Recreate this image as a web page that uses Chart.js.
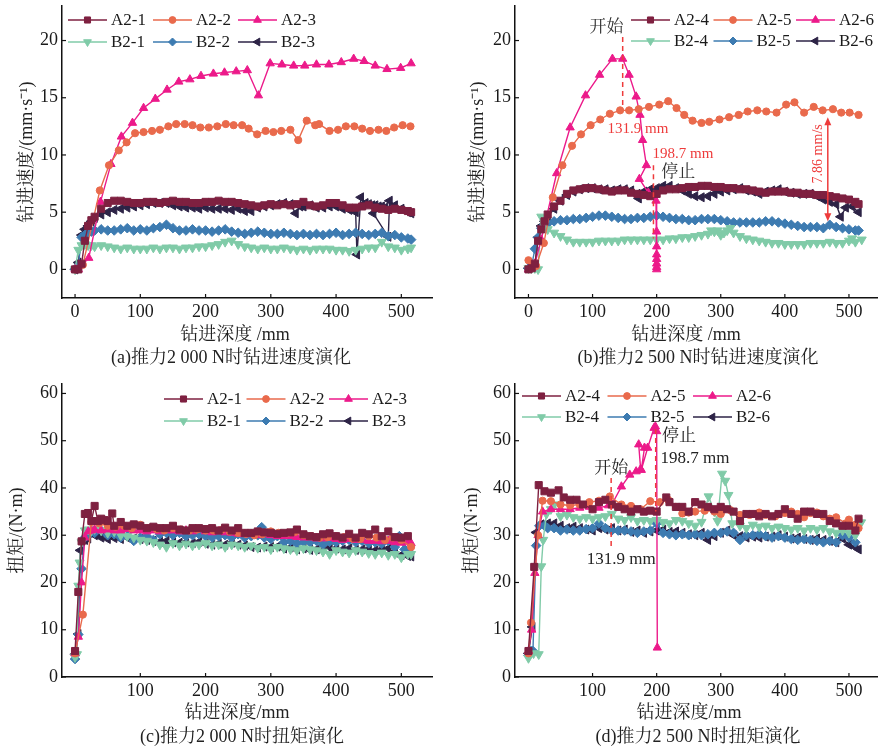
<!DOCTYPE html>
<html>
<head>
<meta charset="utf-8">
<script src="https://cdn.jsdelivr.net/npm/chart.js@4.4.1/dist/chart.umd.min.js"></script>
<style>
  body { margin: 0; background: #fff; }
  #page { position: relative; width: 884px; height: 746px; background: #fff; overflow: hidden; }
  .panel { position: absolute; }
  .t {
    position: absolute; transform: translate(-50%, -50%); white-space: nowrap;
    font: 18px "Liberation Serif", "Noto Serif CJK SC", "Noto Sans CJK SC", serif; color: #222;
  }
</style>
</head>
<body>
<div id="page">
  <div class="panel" style="left:0;top:0"><canvas id="chartA" width="442" height="322"></canvas></div>
  <div class="panel" style="left:442px;top:0"><canvas id="chartB" width="442" height="322"></canvas></div>
  <div class="panel" style="left:0;top:370px"><canvas id="chartC" width="442" height="330"></canvas></div>
  <div class="panel" style="left:442px;top:370px"><canvas id="chartD" width="442" height="330"></canvas></div>

  <div class="t" style="left:235px;top:332px">钻进深度 /mm</div>
  <div class="t" style="left:686px;top:332px">钻进深度 /mm</div>
  <div class="t" style="left:237px;top:710px">钻进深度/mm</div>
  <div class="t" style="left:689px;top:710px">钻进深度/mm</div>

  <div class="t" style="left:231px;top:355px">(a)推力2 000 N时钻进速度演化</div>
  <div class="t" style="left:698px;top:355px">(b)推力2 500 N时钻进速度演化</div>
  <div class="t" style="left:242px;top:734px">(c)推力2 000 N时扭矩演化</div>
  <div class="t" style="left:698px;top:734px">(d)推力2 500 N时扭矩演化</div>
</div>

<script>
const FONT = '"Liberation Serif", "Noto Serif CJK SC", "Noto Sans CJK SC", serif';

// ---- tick labels
const speedTicks = [0, 5, 10, 15, 20];
const torqueTicks = [0, 10, 20, 30, 40, 50, 60];
const depthTicksAB = [0, 100, 200, 300, 400, 500];
const depthTicksCD = [100, 200, 300, 400, 500];

// shared depth grid (mm) used by the densely sampled curves
const depthGrid = [0,5,10,15,20,25,30,40,50,60,70,80,90,100,110,120,130,140,150,160,170,180,190,200,210,220,230,240,250,260,270,280,290,300,310,320,330,340,350,360,370,380,390,400,410,420,430,440,450,460,470,480,490,500,510,515];

// ---- (a) drilling speed, thrust 2000 N
const a21Speed = [0,0,0.5,2.5,3.8,4.3,4.6,5.3,5.8,6.0,6.0,5.9,5.8,5.8,5.9,5.9,5.8,5.9,6.0,5.9,5.9,5.8,5.8,5.9,5.9,6.0,5.9,5.9,5.8,5.7,5.6,5.5,5.6,5.7,5.6,5.7,5.6,5.7,5.9,5.6,5.5,5.6,5.8,5.8,5.6,5.4,5.4,5.5,5.6,5.4,5.3,5.2,5.3,5.2,5.1,5.0];
const a22Depth = [0,12,38,52,67,79,92,105,118,130,143,155,168,180,192,205,218,231,243,256,266,279,292,304,316,330,342,355,368,374,390,403,415,428,440,452,465,477,489,502,514];
const a22Speed = [0,0.4,6.9,9.1,10.4,11.1,11.9,12.0,12.1,12.2,12.5,12.7,12.7,12.6,12.4,12.4,12.5,12.7,12.6,12.6,12.3,11.8,12.1,12.0,12.1,12.2,11.3,13.0,12.6,12.7,12.1,12.2,12.5,12.5,12.3,12.1,12.2,12.1,12.4,12.6,12.5];
const a23Depth = [0,5,21,39,55,71,88,105,123,141,159,176,193,212,229,247,264,281,299,317,335,352,370,389,408,427,443,460,478,499,515];
const a23Speed = [0,0,1.0,5.9,9.2,11.6,12.8,14.1,14.9,15.7,16.4,16.6,16.9,17.1,17.2,17.3,17.4,15.2,18.0,17.9,17.8,17.8,17.9,17.9,18.1,18.4,18.2,17.8,17.5,17.6,18.0];
const b21Speed = [0,1.7,2.1,2.2,2.1,2.1,2.0,2.1,2.0,1.9,1.8,1.9,1.8,1.8,1.8,1.9,1.8,1.9,1.9,1.8,1.9,1.9,2.0,2.0,2.1,2.2,2.4,2.5,2.2,2.0,1.9,1.8,1.9,1.8,1.8,1.9,1.8,1.7,1.8,1.7,1.8,1.8,1.8,1.7,1.7,1.6,1.7,1.8,1.9,1.9,2.4,2.0,1.9,1.7,1.8,1.9];
const b22Speed = [0,0.3,2.8,3.0,3.2,3.3,3.4,3.5,3.4,3.4,3.5,3.6,3.4,3.5,3.4,3.6,3.7,3.9,3.6,3.4,3.4,3.5,3.4,3.4,3.3,3.4,3.5,3.3,3.2,3.1,3.2,3.3,3.2,3.1,3.1,3.2,3.1,3.0,3.1,3.0,3.1,3.0,3.1,3.2,3.0,3.1,3.2,3.1,3.0,3.1,3.2,2.9,3.0,2.8,2.7,2.6];
const b23Depth = [0,5,10,15,20,25,30,40,50,60,70,80,90,100,110,120,130,140,150,160,170,180,190,200,210,220,230,240,250,260,270,280,290,300,310,320,330,338,345,350,360,370,380,390,400,410,420,430,432,438,445,450,455,460,465,470,475,457,480,482,490,500,510,515];
const b23Speed = [0,0.6,3.0,3.5,3.8,4.2,4.5,4.8,5.0,5.2,5.3,5.4,5.5,5.6,5.7,5.8,5.8,5.8,5.6,5.5,5.4,5.4,5.3,5.4,5.3,5.3,5.3,5.2,5.3,5.1,5.1,5.4,5.5,5.6,5.7,5.8,5.7,4.9,5.5,5.5,5.6,5.4,5.4,5.5,5.5,5.3,5.2,5.0,1.3,6.3,5.8,5.7,5.6,5.6,5.5,5.5,5.4,4.9,2.85,6.0,5.6,5.3,5.0,4.9];

// ---- (b) drilling speed, thrust 2500 N
const a24Speed = [0,0.1,0.5,2.5,3.5,4.2,4.8,5.5,6.0,6.6,6.9,7.0,7.1,7.1,7.0,6.9,6.8,6.9,6.9,6.7,6.6,6.5,6.4,6.6,6.9,7.0,7.0,7.1,7.2,7.2,7.3,7.3,7.2,7.2,7.1,7.1,7.0,7.0,6.9,6.8,6.7,6.8,6.8,6.8,6.7,6.7,6.6,6.6,6.5,6.5,6.4,6.3,6.2,6.1,5.9,5.7];
const a25Depth = [0,5,12,24,38,53,68,82,97,112,127,143,157,172,188,204,218,231,243,256,270,282,298,313,328,342,357,371,387,402,415,430,445,459,475,488,501,515];
const a25Speed = [0.8,0.2,0.3,2.3,6.3,9.1,10.8,11.8,12.6,13.1,13.6,13.9,13.9,14.0,14.2,14.4,14.7,14.1,13.5,13.0,12.8,12.9,13.1,13.3,13.5,13.8,13.9,13.8,13.7,14.4,14.6,13.7,14.2,13.9,14.0,13.7,13.7,13.5];
const a26Depth = [0,5,10,20,44,65,89,111,131,147,157,168,174,178,184,173,187,197,199,200,200,200,200,200,200,200];
const a26Speed = [0,0.1,0.5,2.6,8.4,12.4,15.2,17.0,18.4,18.4,17.0,15.1,13.5,11.3,9.1,7.9,6.7,6.5,6.0,3.3,2.0,1.3,0.9,0.5,0.2,0.0];
const b24Depth = [0,5,10,15,20,25,30,40,50,60,70,80,90,100,110,120,130,140,150,160,170,180,190,200,210,220,230,240,250,260,270,280,285,290,295,300,305,310,315,320,330,340,350,360,370,380,390,400,410,420,430,440,450,460,470,480,490,500,505,510,520];
const b24Speed = [0.1,0.1,0.1,0.0,4.6,4.0,3.5,3.2,2.9,2.6,2.4,2.4,2.4,2.4,2.5,2.5,2.5,2.5,2.6,2.6,2.6,2.6,2.6,2.6,2.6,2.7,2.7,2.8,2.8,2.9,3.0,3.1,3.4,3.3,3.4,3.0,3.2,3.4,3.6,3.2,2.9,2.7,2.6,2.5,2.4,2.3,2.3,2.2,2.2,2.2,2.2,2.3,2.3,2.3,2.4,2.3,2.3,2.5,2.7,2.4,2.6];
const b25Speed = [0.1,0.3,1.8,2.8,3.6,3.9,4.0,4.2,4.3,4.3,4.4,4.4,4.5,4.6,4.7,4.7,4.6,4.5,4.4,4.4,4.5,4.5,4.6,4.7,4.6,4.5,4.4,4.4,4.3,4.3,4.4,4.4,4.4,4.3,4.2,4.1,4.1,4.1,4.1,4.1,4.2,4.2,4.1,4.0,3.9,3.8,3.7,3.7,3.7,3.6,3.9,3.7,3.6,3.5,3.4,3.4];
const b26Depth = [0,5,10,15,20,25,30,40,50,60,70,80,90,100,110,120,130,140,150,160,170,172,180,190,200,210,220,230,240,250,260,270,280,290,300,310,320,330,340,350,360,370,380,390,400,410,420,430,440,450,460,470,480,487,495,505,515];
const b26Speed = [0.1,0.2,0.3,2.8,3.8,4.2,4.6,5.3,6.0,6.5,6.8,7.0,7.1,7.1,7.0,7.0,6.9,7.0,7.0,6.9,6.6,6.2,6.8,7.0,7.1,7.3,7.3,7.1,6.9,6.6,6.4,6.3,6.4,6.6,6.8,6.9,7.0,7.1,6.9,6.8,6.6,6.8,6.9,7.0,6.8,6.7,6.6,6.6,6.6,6.4,6.1,5.9,5.7,4.6,5.4,5.5,5.0];

// ---- (c) torque, thrust 2000 N
const a21TqDepth = [0,5,10,15,20,25,30,35,40,45,50,57,60,70,80,90,100,110,120,130,140,150,160,170,180,190,200,210,220,230,240,250,260,270,280,290,300,310,320,330,340,350,360,370,380,390,400,410,420,430,440,450,460,470,480,490,500,510];
const a21Torque = [5.5,18.0,28.7,34.5,34.7,33.0,36.2,33.0,33.5,33.2,33.0,34.6,32.0,32.8,32.0,32.3,32.0,31.5,31.8,31.5,31.5,32.0,31.2,31.0,31.5,31.5,31.3,31.5,31.0,31.6,31.0,31.5,30.5,30.5,30.8,30.6,30.5,30.3,30.5,30.6,31.2,30.2,29.8,29.6,30.2,30.4,29.8,29.5,30.3,29.5,30.5,30.2,31.2,29.8,30.8,29.6,29.5,29.8];
const a22TqDepth = [0,12,25,37,50,62,75,87,100,112,125,137,150,162,175,187,200,212,225,237,250,262,275,287,300,312,325,337,350,362,375,387,400,412,425,437,450,462,475,487,500,515];
const a22Torque = [5.0,13.2,32.8,32.5,32.0,31.8,32.0,31.5,32.2,31.5,31.3,31.0,31.5,31.2,31.0,31.2,31.0,31.0,31.2,30.8,30.5,30.3,30.0,30.2,30.8,30.5,30.4,30.7,30.0,29.8,29.5,29.6,29.8,29.6,29.3,29.2,29.8,29.5,29.0,29.5,29.0,27.5];
const a23Torque = [5.0,8.5,20.0,29.5,30.8,31.0,31.2,31.0,31.2,31.0,31.0,31.3,31.0,31.0,30.8,31.0,30.8,31.0,31.0,30.8,31.0,30.8,31.2,30.8,30.6,30.8,30.6,30.5,30.3,30.2,30.2,30.0,30.2,30.0,29.8,29.8,29.8,29.6,29.5,29.5,29.3,29.3,29.4,29.2,29.0,29.2,29.0,29.0,28.8,28.8,28.7,28.8,28.5,28.4,28.6,28.3];
const b21TqDepth = [0,3,5,7,10,15,20,25,30,40,50,60,70,80,90,100,110,120,130,140,150,160,170,180,190,200,210,220,230,240,250,260,270,280,290,300,310,320,330,340,350,360,370,380,390,400,410,420,430,440,450,460,470,480,490,500,510,515];
const b21Torque = [4.2,4.8,19.3,24.2,28.5,31.0,31.2,31.0,31.3,31.0,30.5,30.8,30.0,29.8,29.5,29.0,28.8,28.5,28.0,27.5,28.3,27.8,28.2,27.8,28.0,28.3,27.8,28.0,27.5,28.0,27.8,27.5,27.8,27.3,27.5,27.0,27.5,27.2,27.0,26.8,27.2,27.0,26.8,26.5,26.0,26.8,26.5,26.3,26.8,26.5,26.2,26.0,26.3,25.8,26.0,25.3,26.0,26.0];
const b22TqDepth = [0,5,10,15,20,30,40,50,60,70,80,90,100,110,120,130,140,150,160,170,180,190,200,210,220,230,240,250,260,270,280,286,290,300,310,320,330,340,350,360,370,380,390,400,410,420,430,440,450,460,470,480,490,497,505,512];
const b22Torque = [3.8,9.0,22.9,29.5,30.0,30.5,31.0,30.0,30.2,29.5,29.8,28.8,29.5,29.8,29.0,30.2,30.5,30.0,30.5,29.8,30.0,30.2,29.8,29.5,29.8,30.0,29.5,30.2,29.5,29.8,30.0,31.7,29.5,29.2,29.8,28.5,28.8,28.2,28.6,28.5,28.8,28.0,28.6,28.5,28.8,29.0,28.5,28.8,28.3,28.5,28.2,28.8,27.5,29.8,27.0,26.5];
const b23TqDepth = [0,5,8,15,20,30,35,40,50,60,70,80,90,100,110,120,130,140,150,160,170,180,190,200,210,220,230,240,250,260,270,280,290,300,310,320,330,340,350,360,370,380,390,400,410,420,430,440,450,460,470,480,490,500,510,515];
const b23Torque = [4.8,9.1,26.8,29.0,29.3,30.0,30.3,29.5,29.2,29.4,29.2,29.5,29.3,29.2,29.0,28.8,28.6,28.8,28.5,28.4,28.5,28.3,28.6,28.2,28.0,28.2,28.0,28.4,28.0,27.8,27.5,27.4,27.6,27.5,27.6,27.2,27.4,27.0,27.2,26.9,27.0,27.2,27.4,27.2,27.0,27.2,26.9,27.0,27.1,26.8,27.0,27.2,26.3,25.8,25.6,25.5];

// ---- (d) torque, thrust 2500 N
const a24TqDepth = [0,9,16,25,35,47,55,65,75,85,100,110,120,130,140,150,160,170,180,190,200,215,220,230,240,250,260,270,280,290,300,310,320,330,340,350,360,370,380,390,400,410,420,430,440,450,460,470,480,490,500,510,515];
const a24Torque = [5.5,23.3,40.6,39.3,39.0,39.5,38.0,37.5,37.5,36.5,35.5,37.0,37.5,36.5,36.0,35.5,35.0,35.5,35.0,35.2,35.0,38.0,37.0,36.0,36.0,35.0,37.0,36.5,36.0,35.5,36.0,35.5,35.0,33.0,34.5,34.5,34.0,34.5,34.0,34.5,35.5,34.5,33.5,35.0,35.0,34.5,34.5,33.0,32.5,32.0,32.0,31.0,33.5];
const a25TqDepth = [0,4,15,22,35,50,65,80,95,110,127,145,160,175,190,205,218,230,240,250,260,275,290,300,315,330,345,360,370,385,400,410,420,430,440,450,460,470,480,495,500,510,515];
const a25Torque = [5.0,11.5,30.0,37.3,37.2,36.5,36.3,36.5,37.0,37.3,38.2,36.5,36.2,35.5,37.2,37.0,37.5,36.0,34.6,34.8,35.0,35.2,35.0,34.5,35.3,34.3,34.3,34.8,34.3,34.0,34.7,35.0,34.5,33.8,34.7,34.8,34.0,33.5,33.8,32.5,33.3,32.2,31.5];
const a26TqDepth = [0,5,10,15,22,35,50,65,80,95,110,125,130,145,158,168,175,172,181,176,186,196,198,200,201];
const a26Torque = [5.5,10.0,22.0,30.0,35.0,35.5,35.5,35.5,35.8,36.0,35.8,36.3,36.5,40.3,42.8,43.5,44.0,49.2,48.5,43.8,48.5,52.7,53.0,52.0,6.2];
const b24TqDepth = [0,8,16,20,23,28,35,40,50,60,70,80,90,100,110,120,130,140,150,160,170,180,190,200,210,220,230,240,250,260,270,281,290,295,302,307,312,318,330,340,350,360,370,380,390,400,410,420,430,440,450,460,470,480,490,500,510,519];
const b24Torque = [4.0,5.0,4.8,23.4,29.0,34.5,35.5,36.5,34.0,34.3,33.8,33.5,33.8,33.5,33.8,34.0,34.5,33.5,33.2,33.8,33.0,33.2,33.0,33.2,32.8,32.5,33.2,33.0,32.5,32.0,32.8,38.2,35.0,33.0,43.0,41.5,38.5,32.5,32.0,31.5,32.2,31.8,32.0,31.5,31.8,31.5,31.2,31.5,31.0,31.5,31.2,31.5,30.8,30.5,31.0,30.5,30.0,32.7];
const b25TqDepth = [0,4,7,12,17,25,30,40,50,60,70,80,90,100,110,120,130,140,150,160,170,180,190,200,210,220,230,240,250,260,270,280,290,300,310,320,330,340,350,360,370,380,390,400,410,420,430,440,450,460,470,480,490,500,510];
const b25Torque = [4.5,5.5,5.5,27.8,32.0,32.0,31.5,31.5,31.0,31.2,31.0,31.0,31.3,31.5,32.5,31.5,31.0,31.0,31.0,30.8,30.5,30.8,31.0,32.5,30.5,30.2,30.0,30.2,30.0,30.2,30.0,30.2,30.5,30.5,30.8,30.5,29.0,30.0,30.0,30.2,29.8,29.5,29.8,29.5,29.2,29.0,29.2,29.0,28.8,28.5,28.8,28.5,30.0,29.5,28.5];
const b26TqDepth = [0,6,12,20,30,40,50,60,70,80,90,100,110,120,130,140,150,160,170,180,190,200,210,220,230,240,250,260,270,280,290,300,310,320,330,340,350,360,370,380,390,400,410,420,430,440,450,460,470,480,490,500,510,515];
const b26Torque = [5.0,10.6,30.6,32.3,32.5,32.5,32.0,31.5,31.8,31.5,31.2,31.0,31.5,31.2,31.5,31.0,31.2,30.7,31.0,30.5,30.8,31.0,31.2,30.7,30.8,30.5,30.2,30.0,30.5,29.0,29.8,30.5,31.0,30.0,29.8,29.5,29.7,29.5,29.7,29.7,30.0,29.7,29.3,29.5,29.2,29.0,29.3,29.0,28.8,28.5,29.3,28.0,27.5,27.0];

// marker style for each of the six specimen slots (r: legend size, rData: on the curves)
const MAROON = '#7e2040', ORANGE = '#e96a4c', MAGENTA = '#ec1a8a';
const MINT = '#80cba8', BLUE = '#3d7bb1', NAVY = '#2d2346';
const RED = '#ee3b3b';
const SLOT = [
  { color: MAROON, shape: 'rect', rot: 0, r: 4.3, rData: 5 },
  { color: ORANGE, shape: 'circle', rot: 0, r: 3.4, rData: 3.6 },
  { color: MAGENTA, shape: 'triangle', rot: 0, r: 4.5, rData: 4.8 },
  { color: MINT, shape: 'triangle', rot: 180, r: 4.5, rData: 5.2 },
  { color: BLUE, shape: 'rectRot', rot: 0, r: 4, rData: 4.8 },
  { color: NAVY, shape: 'triangle', rot: -90, r: 4.5, rData: 5.2 }
];

function series(slot, label, xs, ys) {
  const s = SLOT[slot];
  return {
    label,
    data: xs.map((x, i) => ({ x, y: ys[i] })),
    slot,
    borderColor: s.color,
    backgroundColor: s.color,
    pointBackgroundColor: s.color,
    pointBorderColor: s.color,
    pointStyle: s.shape,
    pointRotation: s.rot,
    pointRadius: s.rData,
    pointBorderWidth: 1,
    borderWidth: 1.4,
    tension: 0
  };
}

// legend drawn inside the plot, 3 columns x 2 rows
function legendPlugin(cfg) {
  return {
    id: 'panelLegend',
    afterDraw(chart) {
      const ctx = chart.ctx;
      ctx.save();
      ctx.font = '17px ' + FONT;
      ctx.textBaseline = 'middle';
      chart.data.datasets.forEach((ds, i) => {
        const s = SLOT[ds.slot];
        const x = cfg.x + (i % 3) * cfg.colGap;
        const y = cfg.y + Math.floor(i / 3) * cfg.rowGap;
        ctx.strokeStyle = s.color;
        ctx.fillStyle = s.color;
        ctx.lineWidth = 1.5;
        ctx.beginPath();
        ctx.moveTo(x, y);
        ctx.lineTo(x + cfg.lineLen, y);
        ctx.stroke();
        ctx.lineWidth = 1;
        Chart.helpers.drawPoint(ctx, {
          pointStyle: s.shape, rotation: s.rot, radius: s.r, borderWidth: 1
        }, x + cfg.lineLen / 2, y);
        ctx.fillStyle = '#1a1a1a';
        ctx.fillText(ds.label, x + cfg.lineLen + 4, y + 1);
      });
      ctx.restore();
    }
  };
}

// tick marks pointing into the plot
const innerTicks = {
  id: 'innerTicks',
  afterDatasetsDraw(chart) {
    const { ctx, chartArea, scales: { x, y } } = chart;
    ctx.save();
    ctx.strokeStyle = '#111';
    ctx.lineWidth = 1.2;
    x.ticks.forEach(t => {
      const px = x.getPixelForValue(t.value);
      ctx.beginPath();
      ctx.moveTo(px, chartArea.bottom);
      ctx.lineTo(px, chartArea.bottom - 4);
      ctx.stroke();
    });
    y.ticks.forEach(t => {
      const py = y.getPixelForValue(t.value);
      ctx.beginPath();
      ctx.moveTo(chartArea.left, py);
      ctx.lineTo(chartArea.left + 4, py);
      ctx.stroke();
    });
    ctx.restore();
  }
};

// dashed markers, labels and the arrow, placed in data units
function notesPlugin(items) {
  return {
    id: 'notes',
    afterDatasetsDraw(chart) {
      const { ctx, scales: { x, y } } = chart;
      ctx.save();
      items.forEach(n => {
        if (n.kind === 'vline') {
          const px = x.getPixelForValue(n.x);
          ctx.strokeStyle = RED;
          ctx.lineWidth = 1.5;
          ctx.setLineDash([5, 4]);
          ctx.beginPath();
          ctx.moveTo(px, y.getPixelForValue(n.y0));
          ctx.lineTo(px, y.getPixelForValue(n.y1));
          ctx.stroke();
          ctx.setLineDash([]);
        } else if (n.kind === 'arrow') {
          const px = x.getPixelForValue(n.x);
          const top = y.getPixelForValue(n.y0), bot = y.getPixelForValue(n.y1);
          ctx.strokeStyle = RED;
          ctx.fillStyle = RED;
          ctx.lineWidth = 1.5;
          ctx.beginPath();
          ctx.moveTo(px, top + 4);
          ctx.lineTo(px, bot - 4);
          ctx.stroke();
          ctx.beginPath();
          ctx.moveTo(px, top); ctx.lineTo(px - 3.5, top + 8); ctx.lineTo(px + 3.5, top + 8);
          ctx.closePath(); ctx.fill();
          ctx.beginPath();
          ctx.moveTo(px, bot); ctx.lineTo(px - 3.5, bot - 8); ctx.lineTo(px + 3.5, bot - 8);
          ctx.closePath(); ctx.fill();
        } else {
          const px = x.getPixelForValue(n.x), py = y.getPixelForValue(n.y);
          ctx.fillStyle = n.color;
          ctx.font = n.size + 'px ' + FONT;
          ctx.textAlign = 'center';
          ctx.textBaseline = 'middle';
          ctx.save();
          ctx.translate(px, py);
          if (n.rotate) ctx.rotate(n.rotate * Math.PI / 180);
          ctx.fillText(n.text, 0, 0);
          ctx.restore();
        }
      });
      ctx.restore();
    }
  };
}

function makeChart(id, p) {
  return new Chart(document.getElementById(id), {
    type: 'line',
    data: { datasets: p.datasets },
    options: {
      responsive: false,
      animation: false,
      events: [],
      layout: { padding: { top: p.padTop, right: p.padRight, left: 0, bottom: 0 } },
      plugins: { legend: { display: false }, tooltip: { enabled: false } },
      scales: {
        x: {
          type: 'linear',
          min: p.xMin, max: p.xMax,
          grid: { display: false, drawTicks: false, tickLength: 0 },
          border: { display: true, color: '#111', width: 1.5 },
          ticks: { color: '#1a1a1a', font: { size: 18, family: FONT }, padding: 3, maxRotation: 0, callback: v => String(v) },
          afterBuildTicks: s => { s.ticks = p.xTicks.map(v => ({ value: v })); },
          afterFit: s => { s.height = p.xHeight; s.paddingLeft = 0; s.paddingRight = 0; }
        },
        y: {
          min: p.yMin, max: p.yMax,
          grid: { display: false, drawTicks: false, tickLength: 0 },
          border: { display: true, color: '#111', width: 1.5 },
          ticks: { color: '#1a1a1a', font: { size: 18, family: FONT }, padding: 4, callback: v => String(v) },
          title: {
            display: true, text: p.yTitle, color: '#222',
            font: { size: 18, family: FONT }, padding: { top: p.yTitlePad, bottom: 0 }
          },
          afterBuildTicks: s => { s.ticks = p.yTicks.map(v => ({ value: v })); },
          afterFit: s => { s.width = p.yWidth; s.paddingTop = 0; s.paddingBottom = 0; }
        }
      }
    },
    plugins: [innerTicks, notesPlugin(p.notes), legendPlugin(p.legend)]
  });
}

makeChart('chartA', {
  datasets: [
    series(0, 'A2-1', depthGrid, a21Speed),
    series(1, 'A2-2', a22Depth, a22Speed),
    series(2, 'A2-3', a23Depth, a23Speed),
    series(3, 'B2-1', depthGrid, b21Speed),
    series(4, 'B2-2', depthGrid, b22Speed),
    series(5, 'B2-3', b23Depth, b23Speed)
  ],
  xMin: -20, xMax: 547, yMin: -2.5, yMax: 23,
  xTicks: depthTicksAB, yTicks: speedTicks,
  padTop: 6, padRight: 10, xHeight: 24, yWidth: 62,
  yTitle: '钻进速度/(mm·s⁻¹)', yTitlePad: 16,
  legend: { x: 68, y: 20, colGap: 85, rowGap: 22, lineLen: 39 },
  notes: []
});

makeChart('chartB', {
  datasets: [
    series(0, 'A2-4', depthGrid, a24Speed),
    series(1, 'A2-5', a25Depth, a25Speed),
    series(2, 'A2-6', a26Depth, a26Speed),
    series(3, 'B2-4', b24Depth, b24Speed),
    series(4, 'B2-5', depthGrid, b25Speed),
    series(5, 'B2-6', b26Depth, b26Speed)
  ],
  xMin: -21, xMax: 545, yMin: -2.5, yMax: 23,
  xTicks: depthTicksAB, yTicks: speedTicks,
  padTop: 6, padRight: 0, xHeight: 24, yWidth: 73,
  yTitle: '钻进速度/(mm·s⁻¹)', yTitlePad: 25,
  legend: { x: 189, y: 20, colGap: 82.5, rowGap: 21, lineLen: 39 },
  notes: [
    { kind: 'text', text: '开始', x: 121.6, y: 21.1, color: '#333', size: 17 },
    { kind: 'vline', x: 147, y0: 20.3, y1: 14.2 },
    { kind: 'text', text: '131.9 mm', x: 170.7, y: 12.3, color: RED, size: 15 },
    { kind: 'text', text: '198.7 mm', x: 241, y: 10.1, color: RED, size: 15 },
    { kind: 'text', text: '停止', x: 233.6, y: 8.5, color: '#333', size: 17 },
    { kind: 'vline', x: 195, y0: 9.1, y1: 2.7 },
    { kind: 'arrow', x: 467, y0: 13.3, y1: 4.2 },
    { kind: 'text', text: '7.86 mm/s', x: 451.8, y: 10.1, color: RED, size: 14, rotate: -90 }
  ]
});

makeChart('chartC', {
  datasets: [
    series(0, 'A2-1', a21TqDepth, a21Torque),
    series(1, 'A2-2', a22TqDepth, a22Torque),
    series(2, 'A2-3', depthGrid, a23Torque),
    series(3, 'B2-1', b21TqDepth, b21Torque),
    series(4, 'B2-2', b22TqDepth, b22Torque),
    series(5, 'B2-3', b23TqDepth, b23Torque)
  ],
  xMin: -20, xMax: 547, yMin: 0, yMax: 62,
  xTicks: depthTicksCD, yTicks: torqueTicks,
  padTop: 14, padRight: 10, xHeight: 23, yWidth: 62,
  yTitle: '扭矩/(N·m)', yTitlePad: 6,
  legend: { x: 164, y: 29, colGap: 82.5, rowGap: 22, lineLen: 39 },
  notes: []
});

makeChart('chartD', {
  datasets: [
    series(0, 'A2-4', a24TqDepth, a24Torque),
    series(1, 'A2-5', a25TqDepth, a25Torque),
    series(2, 'A2-6', a26TqDepth, a26Torque),
    series(3, 'B2-4', b24TqDepth, b24Torque),
    series(4, 'B2-5', b25TqDepth, b25Torque),
    series(5, 'B2-6', b26TqDepth, b26Torque)
  ],
  xMin: -21, xMax: 545, yMin: 0, yMax: 62,
  xTicks: depthTicksCD, yTicks: torqueTicks,
  padTop: 14, padRight: 0, xHeight: 23, yWidth: 73,
  yTitle: '扭矩/(N·m)', yTitlePad: 19,
  legend: { x: 80, y: 26, colGap: 85.5, rowGap: 21, lineLen: 39 },
  notes: [
    { kind: 'text', text: '开始', x: 129.3, y: 44.1, color: '#222', size: 17 },
    { kind: 'vline', x: 129, y0: 42.1, y1: 27.6 },
    { kind: 'text', text: '131.9 mm', x: 144.6, y: 24.8, color: '#222', size: 17 },
    { kind: 'text', text: '停止', x: 235, y: 50.9, color: '#222', size: 17 },
    { kind: 'text', text: '198.7 mm', x: 259.7, y: 46.2, color: '#222', size: 17 },
    { kind: 'vline', x: 198.5, y0: 52.5, y1: 35 }
  ]
});
</script>
</body>
</html>
